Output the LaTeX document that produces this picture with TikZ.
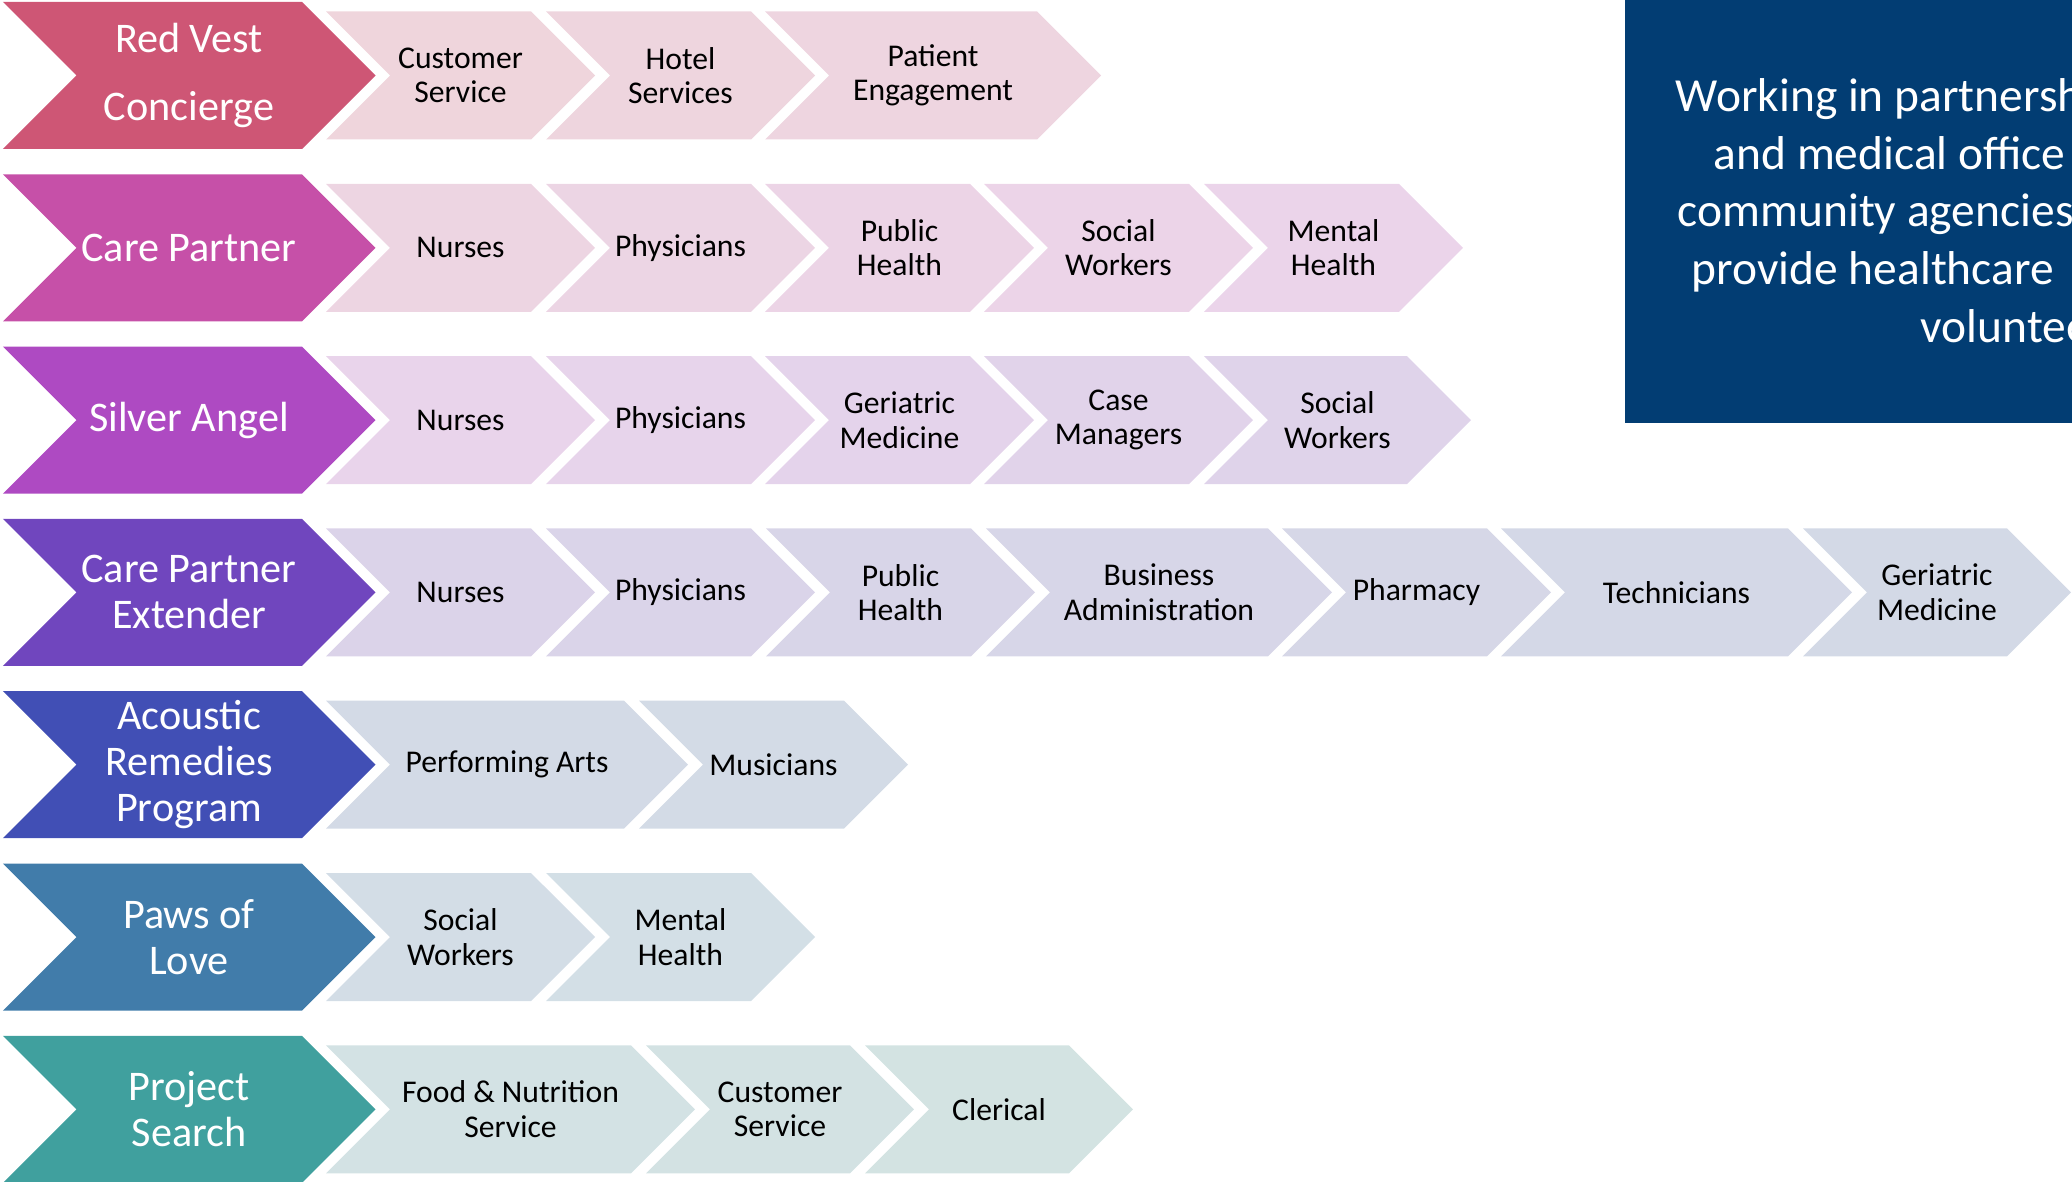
\documentclass[tikz,border=0pt]{standalone}
\usepackage{fontspec}
\setmainfont{Carlito}
\definecolor{redvest}{HTML}{CE5675}
\definecolor{carepartner}{HTML}{C650A8}
\definecolor{silverangel}{HTML}{AE4AC2}
\definecolor{extender}{HTML}{7046BE}
\definecolor{acoustic}{HTML}{414FB5}
\definecolor{paws}{HTML}{417CAA}
\definecolor{projsearch}{HTML}{40A09E}
\definecolor{navybox}{HTML}{023D73}
\definecolor{rvA}{HTML}{EFD5DC}
\definecolor{rvB}{HTML}{EED5E0}
\definecolor{cpA}{HTML}{EDD5E2}
\definecolor{cpB}{HTML}{EBD4EA}
\definecolor{saA}{HTML}{E9D4EB}
\definecolor{saB}{HTML}{DFD3EA}
\definecolor{cpeA}{HTML}{DBD3E9}
\definecolor{cpeB}{HTML}{D3D9E6}
\definecolor{arpA}{HTML}{D3DAE6}
\definecolor{arpB}{HTML}{D3DBE6}
\definecolor{plA}{HTML}{D3DDE6}
\definecolor{plB}{HTML}{D3DFE6}
\definecolor{psA}{HTML}{D3E2E4}
\definecolor{psB}{HTML}{D3E3E2}
\tikzset{
  leadtext/.style={text=white, align=center, inner sep=0pt, font=\fontsize{12}{13.1}\selectfont},
  subtext/.style={text=black, align=center, inner sep=0pt, font=\fontsize{9}{9.8}\selectfont},
  boxtext/.style={text=white, anchor=base west, inner sep=0pt, font=\fontsize{13.5}{16.4}\selectfont}
}
\newcommand{\leadchev}[4]{%
  \pgfmathsetmacro\rowy{75.5+172.3*#2}%
  \fill[#3] (3,\rowy-73.5) -- ++(299,0) -- ++(73.5,73.5) -- ++(-73.5,73.5) -- ++(-299,0) -- ++(73.5,-73.5) -- cycle;
  \node[leadtext] (#1) at (189,\rowy) {#4};}
\newcommand{\subchev}[6]{%
  \pgfmathsetmacro\rowy{75.5+172.3*#2}%
  \fill[#5] (#3,\rowy-64) -- ++(#4,0) -- ++(64,64) -- ++(-64,64) -- ++(-#4,0) -- ++(64,-64) -- cycle;
  \node[subtext] (#1) at ({#3+(#4+64)/2},\rowy) {#6};}
\begin{document}
\begin{tikzpicture}[x=0.01cm,y=-0.01cm]
  \useasboundingbox (0,0) rectangle (2072,1182);
  \clip (0,0) rectangle (2072,1182);
  \leadchev{rv}{0}{redvest}{Red Vest\\[6pt]Concierge}
  \subchev{rv1}{0}{326}{205}{rvA}{Customer\\Service}
  \subchev{rv2}{0}{546}{205}{rvB!50!rvA}{Hotel\\Services}
  \subchev{rv3}{0}{765}{272}{rvB}{Patient\\Engagement}
  \leadchev{cp}{1}{carepartner}{Care Partner}
  \subchev{cp1}{1}{326}{205}{cpA}{Nurses}
  \subchev{cp2}{1}{546}{205}{cpB!25!cpA}{Physicians}
  \subchev{cp3}{1}{765}{205}{cpB!50!cpA}{Public\\Health}
  \subchev{cp4}{1}{984}{205}{cpB!75!cpA}{Social\\Workers}
  \subchev{cp5}{1}{1204}{195}{cpB}{Mental\\Health}
  \leadchev{sa}{2}{silverangel}{Silver Angel}
  \subchev{sa1}{2}{326}{205}{saA}{Nurses}
  \subchev{sa2}{2}{546}{205}{saB!25!saA}{Physicians}
  \subchev{sa3}{2}{765}{205}{saB!50!saA}{Geriatric\\Medicine}
  \subchev{sa4}{2}{984}{205}{saB!75!saA}{Case\\Managers}
  \subchev{sa5}{2}{1204}{203}{saB}{Social\\Workers}
  \leadchev{cpe}{3}{extender}{Care Partner\\Extender}
  \subchev{cpe1}{3}{326}{205}{cpeA}{Nurses}
  \subchev{cpe2}{3}{546}{205}{cpeB!17!cpeA}{Physicians}
  \subchev{cpe3}{3}{766}{205}{cpeB!33!cpeA}{Public\\Health}
  \subchev{cpe4}{3}{986}{282}{cpeB!50!cpeA}{Business\\Administration}
  \subchev{cpe5}{3}{1282}{205}{cpeB!67!cpeA}{Pharmacy}
  \subchev{cpe6}{3}{1501}{287}{cpeB!83!cpeA}{Technicians}
  \subchev{cpe7}{3}{1803}{204}{cpeB}{Geriatric\\Medicine}
  \leadchev{arp}{4}{acoustic}{Acoustic\\Remedies\\Program}
  \subchev{arp1}{4}{326}{298}{arpA}{Performing Arts}
  \subchev{arp2}{4}{639}{205}{arpB}{Musicians}
  \leadchev{pl}{5}{paws}{Paws of\\Love}
  \subchev{pl1}{5}{326}{205}{plA}{Social\\Workers}
  \subchev{pl2}{5}{546}{205}{plB}{Mental\\Health}
  \leadchev{ps}{6}{projsearch}{Project\\Search}
  \subchev{ps1}{6}{326}{305}{psA}{Food \& Nutrition\\Service}
  \subchev{ps2}{6}{646}{204}{psB!50!psA}{Customer\\Service}
  \subchev{ps3}{6}{865}{204}{psB}{Clerical}
  \fill[navybox] (1625,0) rectangle (2100,423);
  \node[boxtext] (box1) at (1675,112) {Working in partnersh};
  \node[boxtext] (box2) at (1713,169.5) {and medical office};
  \node[boxtext] (box3) at (1677,227) {community agencies};
  \node[boxtext] (box4) at (1691,284.5) {provide healthcare};
  \node[boxtext] (box5) at (1920,342) {voluntee};
\end{tikzpicture}
\end{document}
